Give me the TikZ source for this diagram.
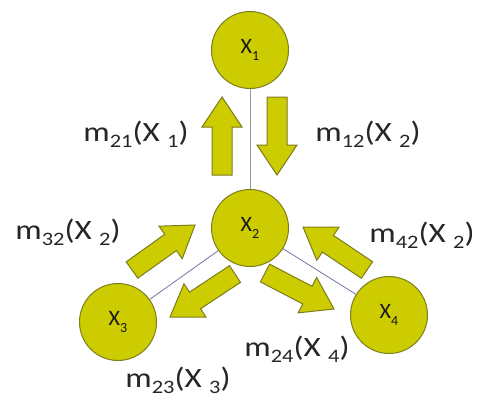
\documentclass[tikz,border=0pt]{standalone}
\usepackage{fontspec}
\setmainfont{Carlito}
\usetikzlibrary{calc}
\definecolor{yfill}{RGB}{204,204,0}
\definecolor{ydraw}{RGB}{125,125,30}
\definecolor{lgray}{RGB}{150,150,150}
\definecolor{lblue}{RGB}{115,115,165}
\newcommand{\lsub}[1]{\raisebox{-0.22em}{\fontsize{19}{19}\selectfont #1}}
\newcommand{\mlbl}[2]{\scalebox{1.18}[1]{\fontsize{28}{30}\selectfont m\lsub{#1}(X \lsub{#2})}}
\newcommand{\csub}[1]{\raisebox{-0.3em}{\fontsize{14}{14}\selectfont #1}}
\tikzset{
  agent/.style={circle, draw=ydraw, fill=yfill, line width=1pt, minimum size=77pt,
    inner sep=0pt, font=\fontsize{22}{22}\selectfont, text=black!90},
  blockarrow/.style={draw=ydraw, fill=yfill, line width=1pt, line join=miter},
  link/.style={line width=0.8pt},
  msg/.style={inner sep=0pt, text=black!85}
}
\newcommand{\barrow}[3]{%
  \path coordinate (#1-t) at (#2) coordinate (#1-p) at (#3)
        coordinate (#1-h) at ($(#3)!30pt!(#2)$);
  \draw[blockarrow] ($(#1-t)!10pt!90:(#1-p)$) -- ($(#1-h)!10pt!-90:(#1-t)$)
    -- ($(#1-h)!20pt!-90:(#1-t)$) -- (#1-p) -- ($(#1-h)!20pt!90:(#1-t)$)
    -- ($(#1-h)!10pt!90:(#1-t)$) -- ($(#1-t)!10pt!-90:(#1-p)$) -- cycle;}
\begin{document}
\begin{tikzpicture}[x=1pt,y=-1pt]
\useasboundingbox[fill=white] (0,0) rectangle (484,399);
\node[agent] (X1) at (250,50) {X\csub{1}};
\node[agent] (X2) at (250,228) {X\csub{2}};
\node[agent] (X3) at (118,322) {X\csub{3}};
\node[agent] (X4) at (389,315) {X\csub{4}};
\draw[link,lgray] (X1) -- (X2);
\draw[link,lblue] (X2) -- (X3);
\draw[link,lblue] (X2) -- (X4);
\barrow{a21}{222,175}{222,97}
\barrow{a12}{277,97}{277,175}
\barrow{a32}{132,270}{195,225}
\barrow{a42}{367,270}{303,227}
\barrow{a23}{235,274}{170,317}
\barrow{a24}{265,273}{334,309}
\node[msg] (m21) at (136,134) {\mlbl{21}{1}};
\node[msg] (m12) at (368,134) {\mlbl{12}{2}};
\node[msg] (m32) at (68,232) {\mlbl{32}{2}};
\node[msg] (m42) at (422,235) {\mlbl{42}{2}};
\node[msg] (m24) at (297,349) {\mlbl{24}{4}};
\node[msg] (m23) at (178,380) {\mlbl{23}{3}};
\end{tikzpicture}
\end{document}
